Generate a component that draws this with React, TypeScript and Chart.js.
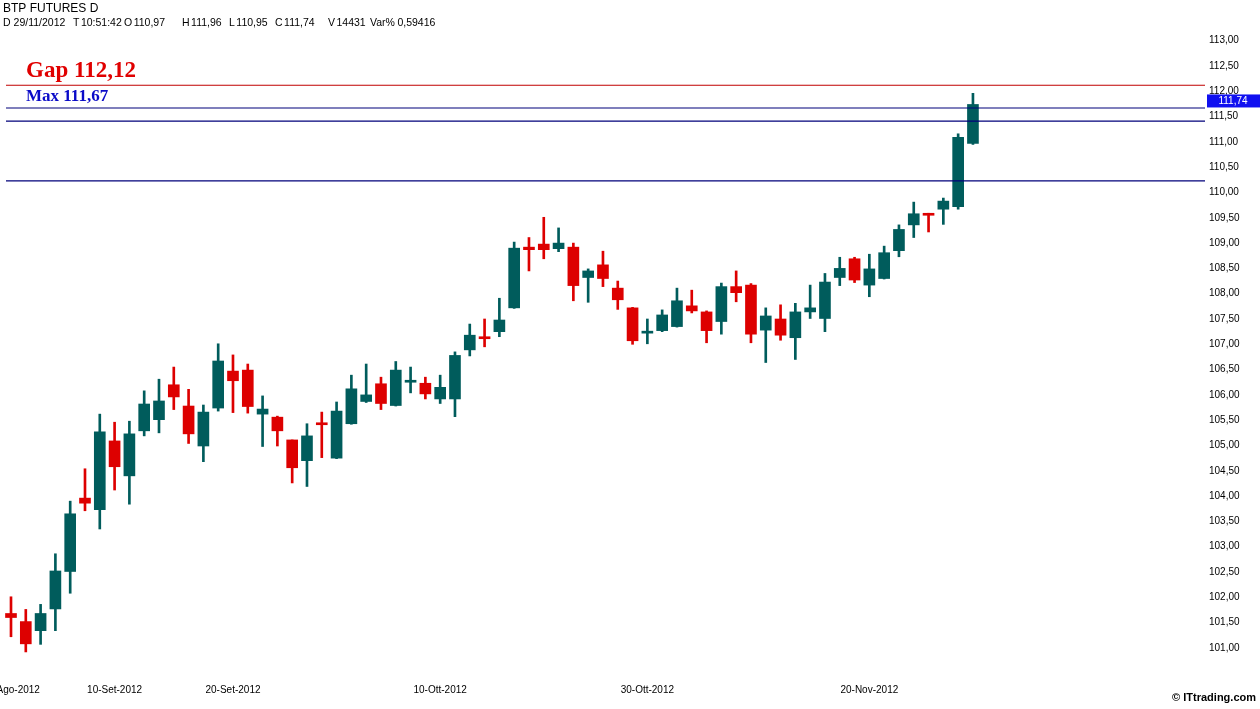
import React, { useEffect, useRef } from 'react';
import { Chart, registerables } from 'chart.js';

Chart.register(...registerables);

// ---------- data ----------
const dates = [
  '30-Ago-2012', '31-Ago-2012',
  '03-Set-2012', '04-Set-2012', '05-Set-2012', '06-Set-2012', '07-Set-2012',
  '10-Set-2012', '11-Set-2012', '12-Set-2012', '13-Set-2012', '14-Set-2012',
  '17-Set-2012', '18-Set-2012', '19-Set-2012', '20-Set-2012', '21-Set-2012',
  '24-Set-2012', '25-Set-2012', '26-Set-2012', '27-Set-2012', '28-Set-2012',
  '01-Ott-2012', '02-Ott-2012', '03-Ott-2012', '04-Ott-2012', '05-Ott-2012',
  '08-Ott-2012', '09-Ott-2012', '10-Ott-2012', '11-Ott-2012', '12-Ott-2012',
  '15-Ott-2012', '16-Ott-2012', '17-Ott-2012', '18-Ott-2012', '19-Ott-2012',
  '22-Ott-2012', '23-Ott-2012', '24-Ott-2012', '25-Ott-2012', '26-Ott-2012',
  '29-Ott-2012', '30-Ott-2012', '31-Ott-2012', '01-Nov-2012', '02-Nov-2012',
  '05-Nov-2012', '06-Nov-2012', '07-Nov-2012', '08-Nov-2012', '09-Nov-2012',
  '12-Nov-2012', '13-Nov-2012', '14-Nov-2012', '15-Nov-2012', '16-Nov-2012',
  '19-Nov-2012', '20-Nov-2012', '21-Nov-2012', '22-Nov-2012', '23-Nov-2012',
  '26-Nov-2012', '27-Nov-2012', '28-Nov-2012', '29-Nov-2012',
];

const opens = [
  101.68, 101.52, 101.34, 101.77, 102.51, 103.96, 103.73, 105.09, 104.40, 105.29,
  105.51, 106.20, 105.78, 104.99, 105.74, 106.47, 106.49, 105.62, 105.56, 105.11,
  104.70, 105.43, 104.75, 105.43, 105.87, 106.22, 105.79, 106.25, 106.23, 105.92,
  105.92, 106.89, 107.13, 107.25, 107.72, 108.92, 108.98, 108.89, 108.92, 108.32,
  108.57, 108.11, 107.72, 107.22, 107.27, 107.35, 107.76, 107.64, 107.45, 108.14,
  108.17, 107.28, 107.50, 107.13, 107.64, 107.51, 108.32, 108.69, 108.17, 108.30,
  108.85, 109.36, 109.57, 109.67, 109.72, 110.97,
];
const highs = [
  102.01, 101.76, 101.86, 102.86, 103.90, 104.54, 105.62, 105.46, 105.48, 106.08,
  106.31, 106.55, 106.11, 105.80, 107.01, 106.79, 106.61, 105.98, 105.58, 105.11,
  105.43, 105.66, 105.86, 106.39, 106.61, 106.35, 106.66, 106.55, 106.35, 106.39,
  106.85, 107.40, 107.50, 107.91, 109.02, 109.11, 109.51, 109.30, 109.00, 108.49,
  108.84, 108.25, 107.73, 107.50, 107.68, 108.11, 108.07, 107.66, 108.21, 108.45,
  108.20, 107.72, 107.78, 107.81, 108.17, 108.40, 108.72, 108.72, 108.78, 108.94,
  109.36, 109.81, 109.59, 109.89, 111.16, 111.96,
];
const lows = [
  101.22, 100.92, 101.07, 101.34, 102.08, 103.71, 103.35, 104.12, 103.84, 105.19,
  105.25, 105.71, 105.04, 104.68, 105.68, 105.65, 105.64, 104.98, 104.99, 104.26,
  104.19, 104.76, 104.74, 105.42, 105.85, 105.71, 105.78, 106.04, 105.92, 105.83,
  105.57, 106.77, 106.95, 107.15, 107.71, 108.45, 108.69, 108.83, 107.86, 107.83,
  108.14, 107.69, 107.00, 107.01, 107.25, 107.34, 107.62, 107.03, 107.20, 107.84,
  107.03, 106.64, 107.08, 106.70, 107.51, 107.25, 108.16, 108.22, 107.94, 108.29,
  108.73, 109.11, 109.22, 109.37, 109.67, 110.95,
];
const closes = [
  101.60, 101.08, 101.68, 102.52, 103.65, 103.86, 105.27, 104.58, 105.23, 105.82,
  105.88, 105.96, 105.23, 105.66, 106.67, 106.28, 105.77, 105.72, 105.29, 104.56,
  105.19, 105.41, 105.68, 106.12, 106.00, 105.83, 106.49, 106.27, 106.02, 106.15,
  106.78, 107.18, 107.11, 107.48, 108.90, 108.87, 108.87, 109.00, 108.16, 108.45,
  108.30, 107.88, 107.07, 107.24, 107.58, 107.86, 107.66, 107.27, 108.14, 108.02,
  107.20, 107.56, 107.18, 107.64, 107.72, 108.23, 108.50, 108.27, 108.49, 108.81,
  109.27, 109.58, 109.55, 109.83, 111.09, 111.74,
];

const xTickIndices = [0, 7, 15, 29, 43, 58];
const yTickValues = [
  101, 101.5, 102, 102.5, 103, 103.5, 104, 104.5, 105, 105.5, 106, 106.5, 107,
  107.5, 108, 108.5, 109, 109.5, 110, 110.5, 111, 111.5, 112, 112.5, 113,
];

const levelValues = [112.12, 111.67, 111.41, 110.23];
const levelLabels = ['Gap 112,12', 'Max 111,67'];

const headerTitle = 'BTP FUTURES D';
const headerFields = [
  'D 29/11/2012', 'T 10:51:42', 'O 110,97', 'H 111,96', 'L 110,95', 'C 111,74', 'V 14431', 'Var% 0,59416',
];
const footerText = '\u00A9 ITtrading.com';

// ---------- layout / style ----------
const W = 1260;
const H = 709;
const X_MIN = -0.743;
const X_MAX = 80.68;
const Y_MIN = 100.563;
const Y_MAX = 113.2115;
const LINE_START = -0.34;
const headerX = [3, 73, 124, 182, 229, 275, 328, 370];
const headerGap = [3, 1.5, 1.5, 1.5, 1.5, 1.5, 1.5, 2.5];
const GREEN = '#005c5c';
const RED = '#dd0000';
const levelColors = ['#c00000', '#00007a', '#00007a', '#00007a'];
const SANS = '"Liberation Sans", Arial, sans-serif';
const SERIF = '"Liberation Serif", "Times New Roman", serif';

const fmt = (v: number) => v.toFixed(2).replace('.', ',');

const overlayPlugin = {
  id: 'overlay',
  afterDraw(chart: any) {
    const ctx = chart.ctx as CanvasRenderingContext2D;
    const ys = chart.scales.y;
    ctx.save();
    // header
    ctx.fillStyle = '#000';
    ctx.textBaseline = 'middle';
    ctx.textAlign = 'left';
    ctx.font = `12px ${SANS}`;
    ctx.fillText(headerTitle, 3, 8.5);
    ctx.font = `10.5px ${SANS}`;
    headerFields.forEach((t, i) => {
      const k = t.indexOf(' ');
      const pre = t.slice(0, k);
      const val = t.slice(k + 1);
      ctx.fillText(pre, headerX[i], 23.5);
      ctx.fillText(val, headerX[i] + ctx.measureText(pre).width + headerGap[i], 23.5);
    });

    // level labels
    ctx.textBaseline = 'alphabetic';
    ctx.font = `bold 23px ${SERIF}`;
    ctx.fillStyle = '#e00000';
    ctx.fillText(levelLabels[0], 26, ys.getPixelForValue(levelValues[0]) - 8);
    ctx.font = `bold 17px ${SERIF}`;
    ctx.fillStyle = '#0a0ac8';
    ctx.fillText(levelLabels[1], 26, ys.getPixelForValue(levelValues[1]) - 7);

    // last price box
    const last = closes[closes.length - 1];
    const yc = ys.getPixelForValue(last) - 3.5;
    ctx.fillStyle = '#1010f0';
    ctx.fillRect(1207, yc - 6.5, W - 1207, 13);
    ctx.fillStyle = '#fff';
    ctx.font = `10px ${SANS}`;
    ctx.textAlign = 'center';
    ctx.textBaseline = 'middle';
    ctx.fillText(fmt(last), 1233, yc + 0.5);

    // footer
    ctx.fillStyle = '#000';
    ctx.font = `bold 11px ${SANS}`;
    ctx.textAlign = 'right';
    ctx.fillText(footerText, 1256, 698);
    ctx.restore();
  },
};

export default function App() {
  const ref = useRef<HTMLCanvasElement | null>(null);

  useEffect(() => {
    if (!ref.current) return;
    const colors = opens.map((o, i) => (closes[i] >= o ? GREEN : RED));
    const wickData = lows.map((l, i) => ({ x: i, y: [l, highs[i]] }));
    const bodyData = opens.map((o, i) => ({ x: i, y: [o, closes[i]] }));

    const lineSets = levelValues.map((v, i) => ({
      type: 'line' as const,
      data: [
        { x: LINE_START, y: v },
        { x: X_MAX, y: v },
      ],
      borderColor: levelColors[i],
      borderWidth: 1.2,
      pointRadius: 0,
      fill: false,
      order: 0,
    }));

    const chart = new Chart(ref.current, {
      type: 'bar',
      data: {
        datasets: [
          {
            type: 'bar',
            data: wickData as any,
            backgroundColor: colors,
            barThickness: 2,
            grouped: false,
            order: 3,
          } as any,
          {
            type: 'bar',
            data: bodyData as any,
            backgroundColor: colors,
            barThickness: 11,
            minBarLength: 2,
            grouped: false,
            order: 2,
          } as any,
          ...lineSets,
        ],
      },
      options: {
        responsive: false,
        animation: false,
        events: [],
        layout: { padding: { left: 0, right: 0, top: 30, bottom: 0 } },
        plugins: {
          legend: { display: false },
          tooltip: { enabled: false },
          title: { display: false },
        },
        scales: {
          x: {
            type: 'linear',
            min: X_MIN,
            max: X_MAX,
            offset: false,
            grid: { display: false, drawTicks: false },
            border: { display: false },
            afterBuildTicks: (s: any) => {
              s.ticks = xTickIndices.map((v) => ({ value: v }));
            },
            afterFit: (s: any) => {
              s.height = 39;
              s.paddingLeft = 0;
              s.paddingRight = 0;
            },
            ticks: {
              autoSkip: false,
              maxRotation: 0,
              padding: 14,
              color: '#000',
              font: { family: SANS, size: 10 },
              callback: (v: any) => dates[Math.round(Number(v))] ?? '',
            },
          },
          y: {
            type: 'linear',
            position: 'right',
            min: Y_MIN,
            max: Y_MAX,
            grid: { display: false, drawTicks: false },
            border: { display: false },
            afterBuildTicks: (s: any) => {
              s.ticks = yTickValues.map((v) => ({ value: v }));
            },
            afterFit: (s: any) => {
              s.width = 55;
              s.paddingTop = 0;
              s.paddingBottom = 0;
            },
            ticks: {
              padding: 4,
              color: '#000',
              font: { family: SANS, size: 10 },
              callback: (v: any) => fmt(Number(v)),
            },
          },
        },
      },
      plugins: [overlayPlugin],
    } as any);

    return () => chart.destroy();
  }, []);

  return (
    <div style={{ position: 'absolute', left: 0, top: 0, width: W, height: H, background: '#fff' }}>
      <canvas ref={ref} width={W} height={H} style={{ display: 'block' }} />
    </div>
  );
}
